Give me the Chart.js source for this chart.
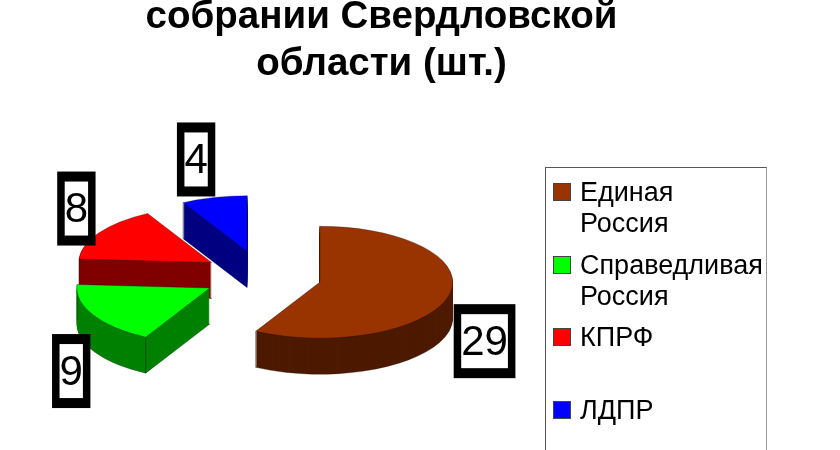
<!DOCTYPE html>
<html>
<head>
<meta charset="utf-8">
<script src="https://cdn.jsdelivr.net/npm/chart.js@4"></script>
<style>
    html, body { margin: 0; padding: 0; background: #fff; overflow: hidden; width: 840px; height: 450px; }
    #wrap { position: relative; width: 840px; height: 450px; overflow: hidden; }
    #chart { position: absolute; left: 0; top: 0; filter: blur(0.45px); }
    #legend {
        position: absolute; left: 545px; top: 167px; width: 222px; height: 320px;
        border: 1px solid #555; border-right-color: #999; box-sizing: border-box;
        padding-top: 9px; font: 27px "Liberation Sans", Arial, sans-serif; color: #000; filter: blur(0.35px);
    }
    .row { position: relative; height: 72.5px; padding-left: 34px; line-height: 31px; white-space: normal; }
    .row i { position: absolute; left: 7px; top: 6px; width: 16px; height: 16px; border: 1px solid #444; }
</style>
</head>
<body>
<div id="wrap">
    <canvas id="chart" width="840" height="450"></canvas>
    <div id="legend"></div>
</div>
<script>
const categories = ['Единая Россия', 'Справедливая Россия', 'КПРФ', 'ЛДПР'];
const seats = [29, 9, 8, 4];
const topColors = ['#993300', '#00ff00', '#ff0000', '#0000ff'];
const sideColors = ['#4d1a00', '#008000', '#800000', '#000080'];
const titleLines = ['собрании Свердловской', 'области (шт.)'];

// blue goes first, brown last, same order as the original overlap
const drawOrder = [3, 2, 1, 0];

const pie3d = {
    id: 'pie3d',
    beforeDatasetsDraw(chart, args, opts) {
        const ctx = chart.ctx;
        const arcs = chart.getDatasetMeta(0).data;

        const place = (arc, drop) => {
            const mid = (arc.startAngle + arc.endAngle) / 2;
            ctx.translate(opts.x, opts.y + drop);
            ctx.scale(1, opts.tilt);
            ctx.translate(Math.cos(mid) * opts.explode, Math.sin(mid) * opts.explode);
            ctx.translate(-arc.x, -arc.y);
        };

        drawOrder.forEach(i => {
            const arc = arcs[i];
            const base = arc.options;

            // side wall: stacked copies, only the lowest one keeps an outline
            for (let k = opts.depth; k > 0; k--) {
                ctx.save();
                place(arc, k);
                arc.options = {
                    ...base,
                    backgroundColor: sideColors[i],
                    borderColor: 'rgba(0,0,0,0.4)',
                    borderWidth: k === opts.depth ? 1 : 0
                };
                arc.draw(ctx);
                ctx.restore();
            }
            arc.options = base;

            // vertical corners of the wall
            [arc.startAngle, arc.endAngle].forEach(a => {
                ctx.save();
                place(arc, 0);
                const p = ctx.getTransform().transformPoint(new DOMPoint(
                    arc.x + Math.cos(a) * arc.outerRadius,
                    arc.y + Math.sin(a) * arc.outerRadius
                ));
                ctx.restore();
                ctx.save();
                ctx.strokeStyle = 'rgba(0,0,0,0.4)';
                ctx.lineWidth = 1;
                ctx.beginPath();
                ctx.moveTo(p.x, p.y);
                ctx.lineTo(p.x, p.y + opts.depth);
                ctx.stroke();
                ctx.restore();
            });

            ctx.save();
            place(arc, 0);
            arc.draw(ctx);
            ctx.restore();
        });

        return false;
    },
    // returning false above also skips afterDatasetsDraw, so labels go here
    afterDraw(chart, args, opts) {
        const ctx = chart.ctx;
        const arcs = chart.getDatasetMeta(0).data;
        ctx.save();
        ctx.font = opts.labelFont;
        ctx.textAlign = 'center';
        ctx.textBaseline = 'middle';
        arcs.forEach((arc, i) => {
            const mid = (arc.startAngle + arc.endAngle) / 2;
            const rim = opts.explode + arc.outerRadius;
            const x = opts.x + Math.cos(mid) * rim + opts.labelNudge[i][0];
            const y = opts.y + Math.sin(mid) * rim * opts.tilt + opts.labelNudge[i][1];
            const text = String(seats[i]);
            const w = ctx.measureText(text).width;
            ctx.fillStyle = '#000';
            ctx.fillRect(x - w / 2 - 7.5, y - 37, w + 15, 74);
            ctx.fillStyle = '#fff';
            ctx.fillRect(x - w / 2, y - 27, w, 54);
            ctx.fillStyle = '#000';
            ctx.fillText(text, x, y + 2);
        });
        ctx.restore();
    }
};

new Chart(document.getElementById('chart'), {
    type: 'pie',
    data: {
        labels: categories,
        datasets: [{
            data: seats,
            backgroundColor: topColors,
            borderColor: 'rgba(0,0,0,0.4)',
            borderWidth: 1,
            radius: 133
        }]
    },
    options: {
        responsive: false,
        animation: false,
        layout: { padding: { right: 77 } },
        plugins: {
            legend: { display: false },
            tooltip: { enabled: false },
            title: {
                display: true,
                text: titleLines,
                color: '#000',
                font: { family: '"Liberation Sans", Arial, sans-serif', size: 38.5, weight: 'bold', lineHeight: 1.22 },
                padding: { top: -6, bottom: 0 }
            },
            pie3d: {
                x: 262,
                y: 276,
                tilt: 0.421,
                explode: 59.6,
                depth: 36,
                labelFont: '42px "Liberation Sans", Arial, sans-serif',
                labelNudge: [[36, 45], [-22, 56], [-23, -24], [-18, -38]]
            }
        }
    },
    plugins: [pie3d]
});

// legend box, long names wrap inside it
const legend = document.getElementById('legend');
categories.forEach((name, i) => {
    const row = document.createElement('div');
    row.className = 'row';
    const swatch = document.createElement('i');
    swatch.style.background = topColors[i];
    row.appendChild(swatch);
    row.appendChild(document.createTextNode(name));
    legend.appendChild(row);
});
</script>
</body>
</html>
